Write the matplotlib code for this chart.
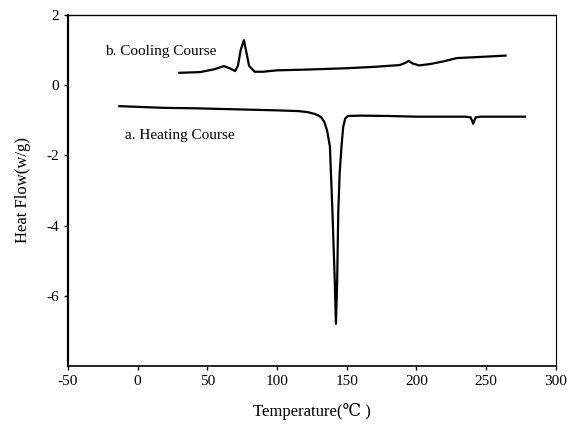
import matplotlib
matplotlib.use('Agg')
import matplotlib.pyplot as plt

plt.rcParams['font.family'] = ['Liberation Serif', 'DejaVu Serif']
plt.rcParams['axes.unicode_minus'] = False

# heating course (a)
heat_t = [-13, 0, 20, 40, 60, 80, 100, 115, 122, 127, 130, 132, 134, 136, 138, 139.8, 141.5,
          142.3, 143.2, 144, 145, 146.3, 147.5, 149, 151, 160, 180, 200, 220, 235, 239,
          240.8, 242.5, 246, 260, 278]
heat_v = [-0.6, -0.62, -0.65, -0.66, -0.68, -0.7, -0.72, -0.74, -0.77, -0.82, -0.87, -0.93,
          -1.05, -1.3, -1.75, -3.6, -5.6, -6.8, -5.6, -3.6, -2.5, -1.75, -1.2, -0.95, -0.88,
          -0.87, -0.88, -0.9, -0.9, -0.9, -0.92, -1.1, -0.92, -0.9, -0.9, -0.9]

# cooling course (b)
cool_t = [30, 45, 55, 62, 66, 70, 72, 74, 76.3, 78, 80, 84, 90, 100, 120, 150, 170, 188,
          192, 194.6, 197, 202, 210, 220, 229, 245, 264]
cool_v = [0.35, 0.37, 0.45, 0.54, 0.48, 0.40, 0.55, 1.0, 1.28, 0.95, 0.55, 0.38, 0.38, 0.42,
          0.44, 0.48, 0.52, 0.57, 0.63, 0.69, 0.62, 0.56, 0.6, 0.68, 0.77, 0.8, 0.84]

xticks = [-50, 0, 50, 100, 150, 200, 250, 300]
yticks = [-6, -4, -2, 0, 2]

fig = plt.figure(figsize=(5.7, 4.25), dpi=100)
ax = fig.add_axes([0.119, 0.139, 0.856, 0.826])

ax.plot(heat_t, heat_v, color='black', lw=1.6)
ax.plot(cool_t, cool_v, color='black', lw=1.6)

ax.text(-23, 0.97, 'b. Cooling Course', fontsize=11, va='center', ha='left')
ax.text(-9, -1.44, 'a. Heating Course', fontsize=11, va='center', ha='left')

ax.set_xlim(-50, 300)
ax.set_ylim(-8, 2)
ax.set_xticks(xticks)
ax.set_yticks(yticks)
ax.tick_params(labelsize=11, length=3, width=1, direction='out')

ax.spines['left'].set_linewidth(1.6)
ax.spines['bottom'].set_linewidth(1.2)
ax.spines['top'].set_linewidth(1.0)
ax.spines['right'].set_linewidth(0.8)

ax.set_xlabel('Temperature(℃ )', fontsize=12, labelpad=11)
ax.set_ylabel('Heat Flow(w/g)', fontsize=12, labelpad=11)

fig.savefig('out.png', dpi=100)
